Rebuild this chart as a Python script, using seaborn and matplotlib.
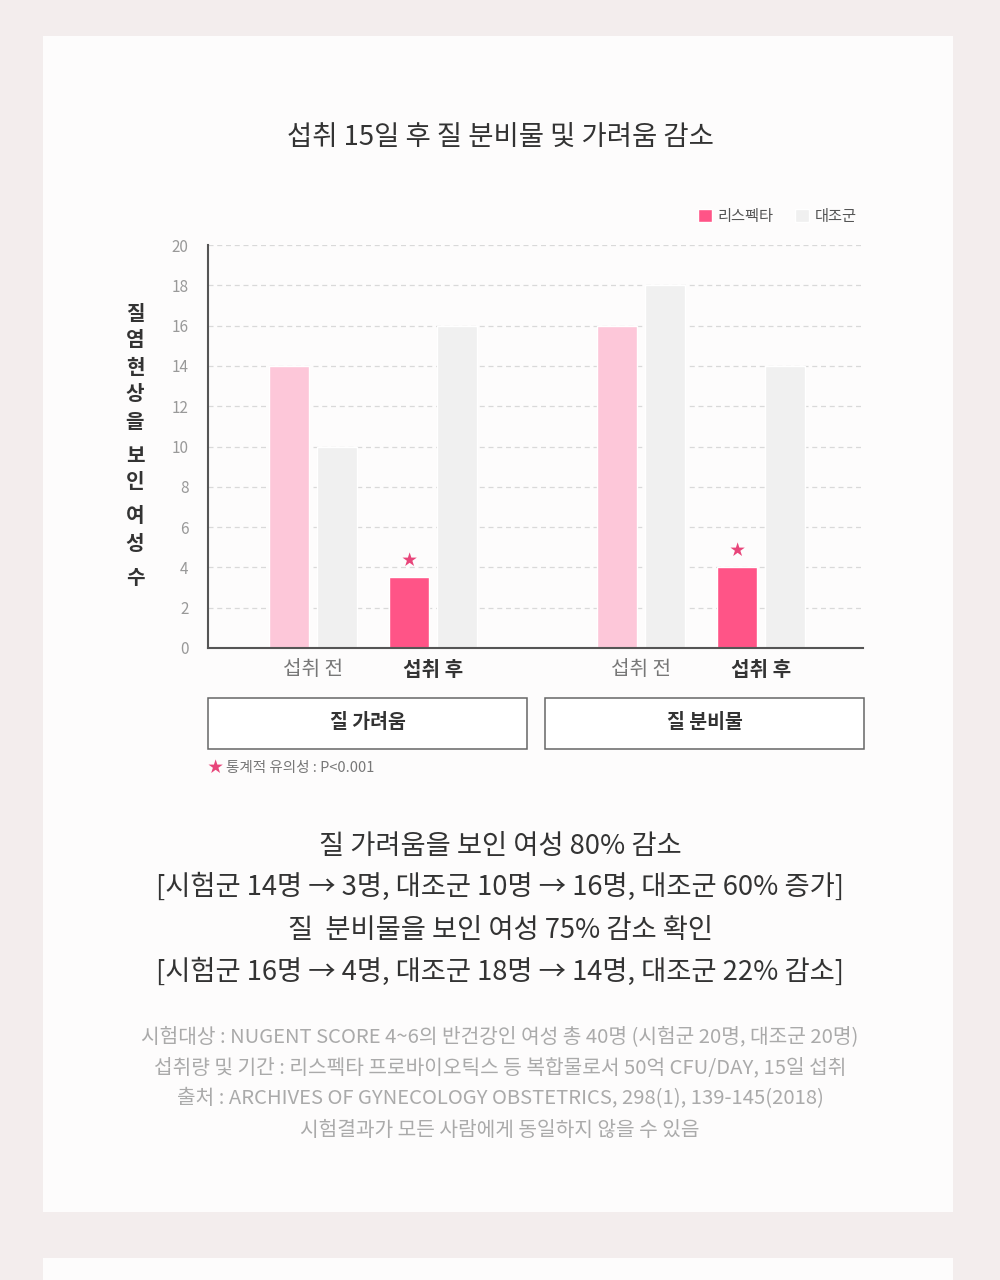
import numpy as np
import pandas as pd
import matplotlib.pyplot as plt
import seaborn as sns
from matplotlib.patches import Rectangle

# data
symptoms = ['질 가려움', '질 분비물']
stages = ['섭취 전', '섭취 후']
respecta = [14, 3.5, 16, 4]
control = [10, 16, 18, 14]
series = ['리스펙타', '대조군']

title = '섭취 15일 후 질 분비물 및 가려움 감소'
ylabel_chars = ['질', '염', '현', '상', '을', ' ', '보', '인', ' ', '여', '성', ' ', '수']
summary = ['질 가려움을 보인 여성 80% 감소',
           '[시험군 14명 → 3명, 대조군 10명 → 16명, 대조군 60% 증가]',
           '질  분비물을 보인 여성 75% 감소 확인',
           '[시험군 16명 → 4명, 대조군 18명 → 14명, 대조군 22% 감소]']
notes = ['시험대상 : NUGENT SCORE 4~6의 반건강인 여성 총 40명 (시험군 20명, 대조군 20명)',
         '섭취량 및 기간 : 리스펙타 프로바이오틱스 등 복합물로서 50억 CFU/DAY, 15일 섭취',
         '출처 : ARCHIVES OF GYNECOLOGY OBSTETRICS, 298(1), 139-145(2018)',
         '시험결과가 모든 사람에게 동일하지 않을 수 있음']

# layout: distance between symptom groups in units of stage spacing
group_gap = 2.733
pos = [g * group_gap + s for g in range(len(symptoms)) for s in range(len(stages))]

df = pd.DataFrame({
    'pos': pos * 2,
    'value': respecta + control,
    'series': [series[0]] * 4 + [series[1]] * 4,
})

sns.set_theme(style='white')
plt.rcParams['font.family'] = ['Noto Sans CJK KR', 'DejaVu Sans']

PINK = '#ff5487'
LIGHT_PINK = '#fdc7d9'
GRAY = '#f0f0f0'
BG = '#f3eded'
PANEL = '#fdfcfc'

fig = plt.figure(figsize=(10, 12.8), dpi=100)
fig.patch.set_facecolor(BG)

def fx(x):
    return x / 1000

def fy(y):
    return 1 - y / 1280

# white panels (behind everything)
fig.patches.append(Rectangle((fx(43), fy(1212)), fx(910), (1212 - 36) / 1280,
                             transform=fig.transFigure, facecolor=PANEL, edgecolor='none', zorder=-2))
fig.patches.append(Rectangle((fx(43), 0), fx(910), (1280 - 1258) / 1280,
                             transform=fig.transFigure, facecolor=PANEL, edgecolor='none', zorder=-2))

ax = fig.add_axes([fx(208), fy(648), fx(655), 403 / 1280])
ax.set_facecolor('none')

sns.barplot(data=df, x='pos', y='value', hue='series', native_scale=True,
            palette=[PINK, GRAY], saturation=1, gap=0.18, errorbar=None, ax=ax)

# lighter pink for the "before" bars, stars over the "after" bars
bars = sorted(ax.containers[0].patches, key=lambda p: p.get_x())
for i, p in enumerate(bars):
    cx = p.get_x() + p.get_width() / 2
    if i % 2 == 0:
        p.set_facecolor(LIGHT_PINK)
    else:
        ax.annotate('★', xy=(cx, p.get_height()), xytext=(0, 6), textcoords='offset points',
                    ha='center', va='bottom', color='#e8457a', fontsize=11)

ax.set_ylim(0, 20)
ax.set_xlim(-0.875, pos[-1] + 0.85)
ax.set_yticks(np.arange(0, 21, 2))
ax.yaxis.grid(True, color='#d9d9d9', linestyle=(0, (4, 3)), linewidth=0.9)
ax.set_axisbelow(True)
ax.tick_params(axis='y', length=0, pad=14, labelsize=11, labelcolor='#999999')
ax.tick_params(axis='x', length=0, pad=8)
ax.set_xticks(pos)
ax.set_xticklabels(stages * 2, fontsize=14.5)
for i, t in enumerate(ax.get_xticklabels()):
    if i % 2 == 1:
        t.set_fontweight('bold')
        t.set_color('#333333')
    else:
        t.set_color('#777777')
ax.set_xlabel('')
ax.set_ylabel('')
for s in ['top', 'right']:
    ax.spines[s].set_visible(False)
for s in ['left', 'bottom']:
    ax.spines[s].set_color('#555555')
    ax.spines[s].set_linewidth(1.5)

sns.move_legend(ax, loc='lower right', bbox_to_anchor=(1.0, 1.035), ncol=2, frameon=False,
                title=None, fontsize=11, handlelength=0.9, handleheight=0.9,
                handletextpad=0.4, columnspacing=1.4, borderaxespad=0)
for t in ax.get_legend().get_texts():
    t.set_color('#555555')

# title
fig.text(0.5, fy(137), title, ha='center', va='center', fontsize=19.8, color='#333333')

# stacked y label
yy = 313
for ch in ylabel_chars:
    if ch == ' ':
        yy += 7
        continue
    fig.text(fx(135), fy(yy), ch, ha='center', va='center', fontsize=14.5,
             fontweight='bold', color='#333333')
    yy += 27

# symptom boxes
for (x0, x1), name in zip([(208, 527), (545, 864)], symptoms):
    fig.patches.append(Rectangle((fx(x0), fy(749)), fx(x1 - x0), 51 / 1280,
                                 transform=fig.transFigure, facecolor='white',
                                 edgecolor='#666666', linewidth=1.1))
    fig.text(fx((x0 + x1) / 2), fy(723), name, ha='center', va='center', fontsize=14,
             fontweight='bold', color='#333333')

# significance footnote
fig.text(fx(207), fy(768), '★', ha='left', va='center', fontsize=11, color='#e8457a')
fig.text(fx(226), fy(768), '통계적 유의성 : P<0.001', ha='left', va='center',
         fontsize=10.5, color='#777777')

for y, line in zip([846, 887, 930, 972], summary):
    fig.text(0.5, fy(y), line, ha='center', va='center', fontsize=19.7, color='#333333')

for y, line in zip([1037, 1068, 1099, 1131], notes):
    fig.text(0.5, fy(y), line, ha='center', va='center', fontsize=14.6, color='#aaaaaa')

fig.savefig('out.png', dpi=100, facecolor=BG)
